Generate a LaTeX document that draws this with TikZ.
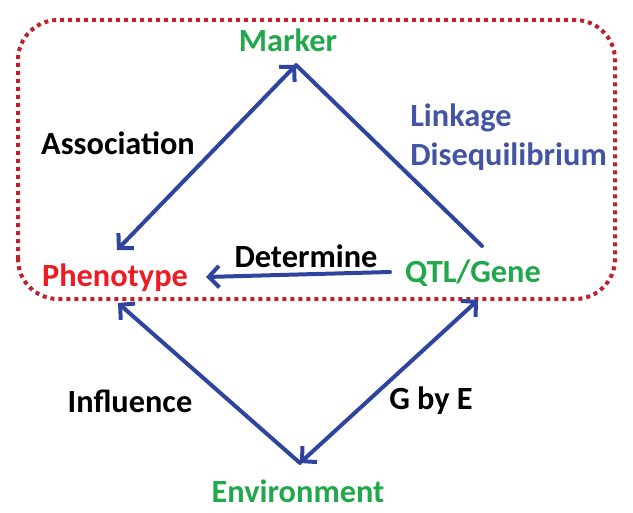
\documentclass[tikz,border=0pt]{standalone}
\usepackage{fontspec}
\setmainfont{Carlito}
\definecolor{linkblue}{RGB}{46, 68, 158}
\definecolor{ldblue}{RGB}{68, 84, 164}
\definecolor{genegreen}{RGB}{34, 168, 76}
\definecolor{phenored}{RGB}{237, 28, 36}
\definecolor{boxred}{RGB}{192, 32, 42}
\usetikzlibrary{arrows.meta}

\begin{document}
\begin{tikzpicture}[x=0.25mm, y=0.25mm,
    lbl/.style={font=\fontsize{23}{28}\selectfont\bfseries, inner sep=0pt},
    link/.style={linkblue, line width=1mm, line cap=round, line join=round},
    tip/.style={-{Straight Barb[length=2.6mm, width=5.4mm, line width=1mm]}},
    both/.style={{Straight Barb[length=2.6mm, width=5.4mm, line width=1mm]}-{Straight Barb[length=2.6mm, width=5.4mm, line width=1mm]}}]
  \useasboundingbox (0, 0) rectangle (633, 512);

  % Dotted region
  \draw[boxred, line width=1mm, dash pattern=on 1mm off 1mm, rounded corners=10mm]
    (18, 213) rectangle (615, 492);

  % Main terms
  \node[lbl, genegreen] (marker) at (288, 472) {Marker};
  \node[lbl, phenored] (pheno) at (115, 234) {Phenotype};
  \node[lbl, genegreen] (qtl) at (473, 239) {QTL/Gene};
  \node[lbl, genegreen] (env) at (298, 21) {Environment};

  % Relation labels
  \node[lbl] (assoc) at (118, 369) {Association};
  \node[lbl] (det) at (306, 256) {Determine};
  \node[lbl] (infl) at (130, 111) {Influence};
  \node[lbl] (gbye) at (431, 111) {G by E};
  \node[lbl, ldblue, align=left, anchor=west] (ld) at (410, 375) {Linkage\\Disequilibrium};

  % Arrow ends
  \coordinate (mkTip) at (296, 447);
  \coordinate (phTop) at (117, 262);
  \coordinate (qtTop) at (482, 266);
  \coordinate (qtLeft) at (390, 240);
  \coordinate (phRight) at (206, 235);
  \coordinate (qtBot) at (478, 212);
  \coordinate (enTop) at (300, 49);
  \coordinate (phBot) at (118, 209);

  % Connectors
  \draw[link, both] (phTop) -- (mkTip);
  \draw[link] (mkTip) -- (qtTop);
  \draw[link, tip] (qtLeft) -- (phRight);
  \draw[link, both] (enTop) -- (qtBot);
  \draw[link, tip] (enTop) -- (phBot);
\end{tikzpicture}
\end{document}
